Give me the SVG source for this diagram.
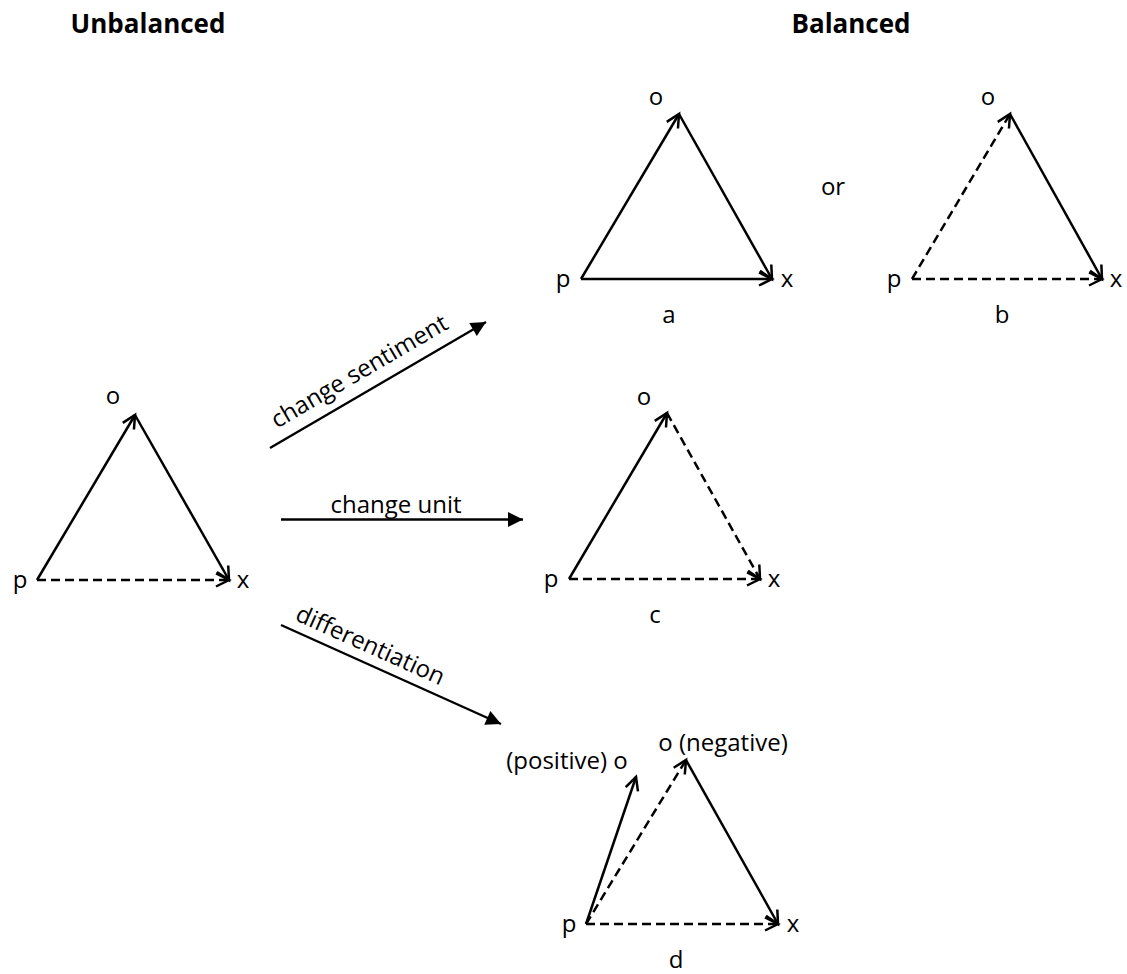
<svg xmlns="http://www.w3.org/2000/svg" width="1127" height="974" viewBox="0 0 1127 974">
<style>
.e{stroke:#000;stroke-width:2.5;fill:none;marker-end:url(#v)}
.d{stroke-dasharray:9 5}
.t{stroke:#000;stroke-width:2.4;fill:none;marker-end:url(#f)}
.lb{font-family:"Open Sans","Liberation Sans",sans-serif;font-size:24px;fill:#000;text-anchor:middle}
.tx{font-family:"Open Sans","Liberation Sans",sans-serif;font-size:24px;fill:#000;text-anchor:middle}
.h{font-family:"Open Sans","Liberation Sans",sans-serif;font-size:26px;font-weight:bold;fill:#000;text-anchor:middle}
</style>
<defs>
<marker id="v" markerUnits="userSpaceOnUse" markerWidth="20" markerHeight="20" viewBox="-16 -10 20 20" refX="0" refY="0" orient="auto">
<path d="M-13,-6.5 L0,0 L-13,6.5" fill="none" stroke="#000" stroke-width="2.5" stroke-linejoin="miter"/>
</marker>
<marker id="f" markerUnits="userSpaceOnUse" markerWidth="20" markerHeight="20" viewBox="-18 -10 20 20" refX="0" refY="0" orient="auto">
<path d="M-15,-7.5 L0,0 L-15,7.5 Z" fill="#000"/>
</marker>
</defs>
<rect width="1127" height="974" fill="#fff"/>
<text class="h" x="148" y="33">Unbalanced</text>
<text class="h" x="851" y="33">Balanced</text>
<text class="tx" x="833" y="195">or</text>

<g id="unbalanced">
<line class="e" x1="37" y1="580" x2="135" y2="415"/>
<line class="e" x1="135" y1="415" x2="229" y2="580"/>
<line class="e d" x1="37" y1="580" x2="229" y2="580"/>
<text class="lb" x="113" y="404">o</text>
<text class="lb" x="20" y="588">p</text>
<text class="lb" x="243" y="588">x</text>
</g>

<g id="balanced-a">
<line class="e" x1="581" y1="279" x2="679" y2="114"/>
<line class="e" x1="679" y1="114" x2="772" y2="279"/>
<line class="e" x1="581" y1="279" x2="772" y2="279"/>
<text class="lb" x="656" y="105">o</text>
<text class="lb" x="563" y="287">p</text>
<text class="lb" x="787" y="287">x</text>
<text class="lb" x="669" y="323">a</text>
</g>

<g id="balanced-b">
<line class="e d" x1="912" y1="279" x2="1010" y2="114"/>
<line class="e" x1="1010" y1="114" x2="1102" y2="279"/>
<line class="e d" x1="912" y1="279" x2="1102" y2="279"/>
<text class="lb" x="988" y="105">o</text>
<text class="lb" x="894" y="287">p</text>
<text class="lb" x="1116" y="287">x</text>
<text class="lb" x="1002" y="323">b</text>
</g>

<g id="balanced-c">
<line class="e" x1="569" y1="579" x2="667" y2="413"/>
<line class="e d" x1="667" y1="413" x2="760" y2="579"/>
<line class="e d" x1="569" y1="579" x2="760" y2="579"/>
<text class="lb" x="644" y="405">o</text>
<text class="lb" x="551" y="587">p</text>
<text class="lb" x="774" y="587">x</text>
<text class="lb" x="655" y="623">c</text>
</g>

<g id="balanced-d">
<line class="e" x1="586" y1="924" x2="636" y2="777"/>
<line class="e d" x1="586" y1="924" x2="686" y2="760"/>
<line class="e" x1="686" y1="760" x2="778" y2="924"/>
<line class="e d" x1="586" y1="924" x2="778" y2="924"/>
<text class="tx" x="567" y="769">(positive) o</text>
<text class="tx" x="723" y="751">o (negative)</text>
<text class="lb" x="569" y="932">p</text>
<text class="lb" x="793" y="932">x</text>
<text class="lb" x="676" y="968">d</text>
</g>

<g id="connectors">
<line class="t" x1="270" y1="448" x2="486" y2="322"/>
<line class="t" x1="281" y1="519.5" x2="523" y2="519.5"/>
<line class="t" x1="281" y1="625" x2="501" y2="724"/>
<text class="tx" transform="translate(370,389.5) rotate(-30.26)" x="0" y="-13">change sentiment</text>
<text class="tx" x="396" y="512.5">change unit</text>
<text class="tx" transform="translate(363,661.8) rotate(24.23)" x="0" y="-10">differentiation</text>
</g>
</svg>
